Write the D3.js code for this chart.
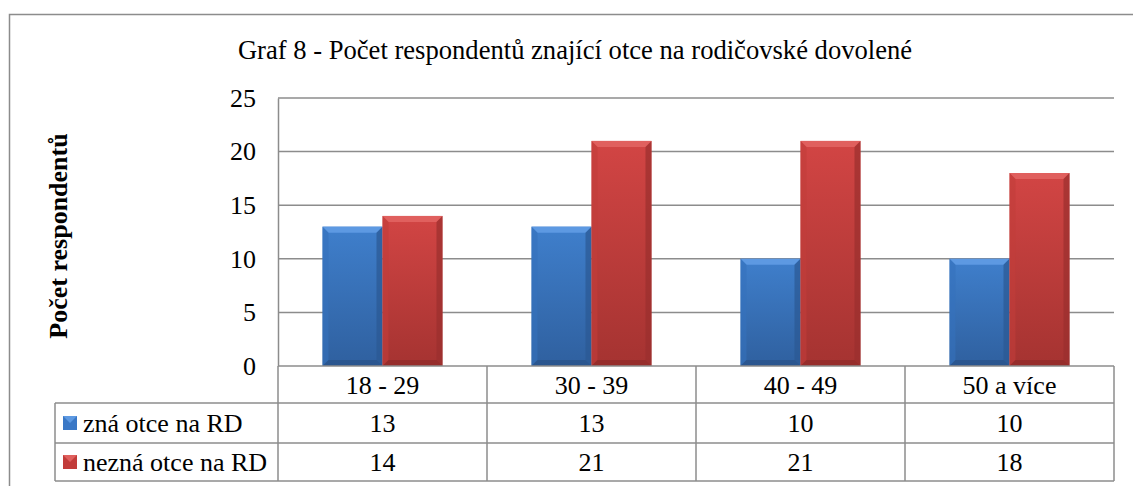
<!DOCTYPE html>
<html>
<head>
<meta charset="utf-8">
<script src="https://cdn.jsdelivr.net/npm/d3@7"></script>
<style>
  body { margin: 0; background: #fff; }
  svg text { font-family: 'Liberation Serif', serif; }
</style>
</head>
<body>
<script>
// data
const categories = ["18 - 29", "30 - 39", "40 - 49", "50 a více"];
const seriesNames = ["zná otce na RD", "nezná otce na RD"];
const znaValues = [13, 13, 10, 10];
const neznaValues = [14, 21, 21, 18];
const yTicks = [0, 5, 10, 15, 20, 25];
const title = "Graf 8 - Počet respondentů znající otce na rodičovské dovolené";
const yLabel = "Počet respondentů";

const W = 1133, H = 486;
const plot = { left: 278, right: 1114, top: 98, bottom: 366 };
const rowH = [37, 40, 38];
const tableLeft = 55;
const fs = 26;

const svg = d3.select("body").append("svg")
  .attr("width", W)
  .attr("height", H);

const defs = svg.append("defs");
function grad(id, stops, x2, y2) {
  const g = defs.append("linearGradient").attr("id", id)
    .attr("x1", 0).attr("y1", 0).attr("x2", x2).attr("y2", y2);
  stops.forEach(s => g.append("stop").attr("offset", s[0]).attr("stop-color", s[1]));
}
grad("blueBody", [[0, "#3f7fcc"], [1, "#2f609f"]], 0, 1);
grad("redBody", [[0, "#d24544"], [1, "#a53331"]], 0, 1);
const palette = [
  { body: "url(#blueBody)", top: "#5d99e2", left: "#3572bd", right: "#2b5993", bottom: "#284f83", sq: "#3a78c6" },
  { body: "url(#redBody)", top: "#e0605e", left: "#c23d3b", right: "#9a2f2d", bottom: "#8c2a28", sq: "#c23c3a" }
];

// outer frame
svg.append("rect")
  .attr("x", 9.5).attr("y", 14.5)
  .attr("width", W + 20).attr("height", H + 20)
  .attr("fill", "none").attr("stroke", "#8c8c8c").attr("stroke-width", 1.5);

svg.append("text")
  .attr("x", 575).attr("y", 59)
  .attr("text-anchor", "middle")
  .attr("font-size", 26.6)
  .text(title);

// scales
const x0 = d3.scaleBand().domain(categories).range([plot.left, plot.right]);
const x1 = d3.scaleBand().domain(seriesNames).range([0, 120]);
const y = d3.scaleLinear().domain([0, 25]).range([plot.bottom, plot.top]);

// gridlines
svg.append("g").selectAll("line").data(yTicks.filter(d => d > 0)).join("line")
  .attr("x1", plot.left).attr("x2", plot.right)
  .attr("y1", d => y(d)).attr("y2", d => y(d))
  .attr("stroke", "#8c8c8c").attr("stroke-width", 1.5);

// y axis
const yAxis = svg.append("g")
  .attr("transform", `translate(${plot.left},0)`)
  .call(d3.axisLeft(y).tickValues(yTicks).tickSize(0).tickPadding(22));
yAxis.attr("font-family", null);
yAxis.select(".domain").attr("stroke", "#8c8c8c").attr("stroke-width", 1.5);
yAxis.selectAll("text")
  .attr("font-size", fs).attr("fill", "#000");

svg.append("text")
  .attr("transform", "translate(67,236) rotate(-90)")
  .attr("text-anchor", "middle")
  .attr("font-size", fs)
  .attr("font-weight", "bold")
  .text(yLabel);

// bars
const rows = categories.map((c, i) => ({ cat: c, vals: [znaValues[i], neznaValues[i]] }));
const bev = 6;
const groups = svg.append("g").selectAll("g").data(rows).join("g")
  .attr("transform", d => `translate(${x0(d.cat) + (x0.bandwidth() - 120) / 2},0)`);

groups.each(function (d) {
  const g = d3.select(this);
  d.vals.forEach((v, k) => {
    const bx = x1(seriesNames[k]), bw = x1.bandwidth();
    const yt = y(v), yb = y(0);
    const p = palette[k];
    g.append("rect").attr("x", bx).attr("y", yt).attr("width", bw).attr("height", yb - yt)
      .attr("fill", p.body);
    g.append("polygon")
      .attr("points", [[bx, yt], [bx + bw, yt], [bx + bw - bev, yt + bev], [bx + bev, yt + bev]].join(" "))
      .attr("fill", p.top);
    g.append("polygon")
      .attr("points", [[bx, yt], [bx + bev, yt + bev], [bx + bev, yb - bev], [bx, yb]].join(" "))
      .attr("fill", p.left).attr("opacity", 0.6);
    g.append("polygon")
      .attr("points", [[bx + bw, yt], [bx + bw - bev, yt + bev], [bx + bw - bev, yb - bev], [bx + bw, yb]].join(" "))
      .attr("fill", p.right).attr("opacity", 0.7);
    g.append("polygon")
      .attr("points", [[bx, yb], [bx + bev, yb - bev], [bx + bw - bev, yb - bev], [bx + bw, yb]].join(" "))
      .attr("fill", p.bottom).attr("opacity", 0.6);
  });
});

// data table
const t = svg.append("g").attr("stroke", "#8c8c8c").attr("stroke-width", 1.5).attr("fill", "none");
const r0 = plot.bottom, r1 = r0 + rowH[0], r2 = r1 + rowH[1], r3 = r2 + rowH[2];
t.append("line").attr("x1", plot.left).attr("x2", plot.right).attr("y1", r0).attr("y2", r0);
t.append("line").attr("x1", tableLeft).attr("x2", plot.right).attr("y1", r1).attr("y2", r1);
t.append("line").attr("x1", tableLeft).attr("x2", plot.right).attr("y1", r2).attr("y2", r2);
t.append("line").attr("x1", tableLeft).attr("x2", plot.right).attr("y1", r3).attr("y2", r3);
t.append("line").attr("x1", tableLeft).attr("x2", tableLeft).attr("y1", r1).attr("y2", r3);
t.selectAll(".v").data(categories.concat(["end"])).join("line")
  .attr("x1", d => d === "end" ? plot.right : x0(d))
  .attr("x2", d => d === "end" ? plot.right : x0(d))
  .attr("y1", r0).attr("y2", r3);

const txt = svg.append("g").attr("font-size", fs).attr("text-anchor", "middle");
categories.forEach((c, i) => {
  const cx = x0(c) + x0.bandwidth() / 2;
  txt.append("text").attr("x", cx).attr("y", (r0 + r1) / 2).attr("dy", "0.35em").text(c);
  txt.append("text").attr("x", cx).attr("y", (r1 + r2) / 2).attr("dy", "0.35em").text(znaValues[i]);
  txt.append("text").attr("x", cx).attr("y", (r2 + r3) / 2).attr("dy", "0.35em").text(neznaValues[i]);
});

const rowMid = [(r1 + r2) / 2, (r2 + r3) / 2];
seriesNames.forEach((s, k) => {
  const p = palette[k];
  const sq = 14, sx = 63, sy = rowMid[k] - sq / 2;
  svg.append("rect").attr("x", sx).attr("y", sy).attr("width", sq).attr("height", sq).attr("fill", p.sq);
  svg.append("polygon")
    .attr("points", [[sx, sy], [sx + sq, sy], [sx + sq / 2, sy + sq / 2]].join(" "))
    .attr("fill", p.top);
  svg.append("text").attr("x", 83).attr("y", rowMid[k]).attr("dy", "0.35em")
    .attr("font-size", fs).text(s);
});
</script>
</body>
</html>
